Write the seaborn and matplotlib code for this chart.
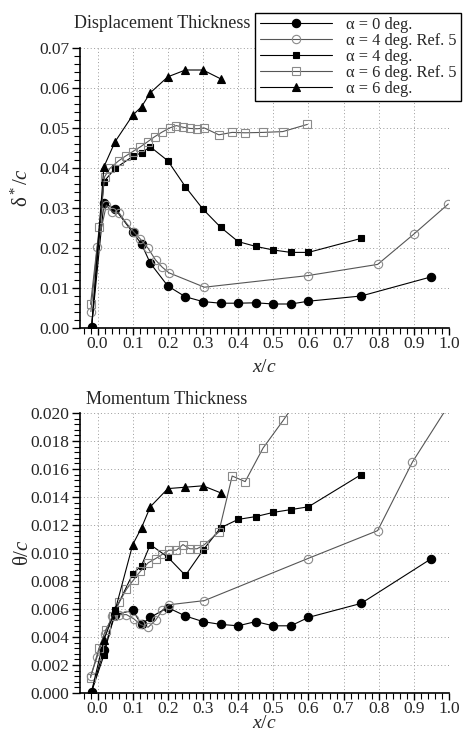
import numpy as np
import pandas as pd
import matplotlib
matplotlib.use("Agg")
import matplotlib.pyplot as plt
import seaborn as sns
from matplotlib.ticker import MultipleLocator, FormatStrFormatter

sns.set_theme(style="white")
plt.rcParams['font.family'] = ['Liberation Serif', 'DejaVu Serif']
plt.rcParams['mathtext.fontset'] = 'custom'
plt.rcParams['mathtext.rm'] = 'Liberation Serif'
plt.rcParams['mathtext.it'] = 'Liberation Serif:italic'

# ---------------- data ----------------
labels = ["α = 0 deg.", "α = 4 deg. Ref. 5", "α = 4 deg.", "α = 6 deg. Ref. 5", "α = 6 deg."]

# Displacement thickness (delta*/c)
d0_x = [-0.017, 0.018, 0.05, 0.10, 0.125, 0.15, 0.20, 0.25, 0.30, 0.35, 0.40, 0.45, 0.50, 0.55, 0.60, 0.75, 0.95]
d0_y = [0.0002, 0.0313, 0.0297, 0.0239, 0.0210, 0.0162, 0.0105, 0.0078, 0.0066, 0.0062, 0.0062, 0.0063, 0.0060, 0.0060, 0.0067, 0.0080, 0.0128]

d4r_x = [-0.019, -0.001, 0.025, 0.042, 0.062, 0.082, 0.103, 0.122, 0.144, 0.165, 0.184, 0.203, 0.304, 0.598, 0.797, 0.899, 0.998]
d4r_y = [0.0041, 0.0203, 0.0307, 0.0290, 0.0287, 0.0262, 0.0240, 0.0222, 0.0199, 0.0170, 0.0152, 0.0138, 0.0102, 0.0131, 0.0159, 0.0234, 0.0310]

d4_x = [-0.017, 0.018, 0.05, 0.10, 0.125, 0.15, 0.20, 0.25, 0.30, 0.35, 0.40, 0.45, 0.50, 0.55, 0.60, 0.75]
d4_y = [0.0002, 0.0366, 0.0399, 0.0429, 0.0438, 0.0453, 0.0418, 0.0353, 0.0297, 0.0252, 0.0216, 0.0204, 0.0195, 0.0189, 0.0189, 0.0224]

d6r_x = [-0.02, 0.005, 0.02, 0.035, 0.06, 0.08, 0.10, 0.122, 0.143, 0.162, 0.184, 0.205, 0.224, 0.243, 0.262, 0.283, 0.304, 0.345, 0.383, 0.420, 0.471, 0.527, 0.597]
d6r_y = [0.0059, 0.0253, 0.0378, 0.0399, 0.0418, 0.0430, 0.0441, 0.0453, 0.0466, 0.0478, 0.0490, 0.0500, 0.0506, 0.0502, 0.0499, 0.0498, 0.0500, 0.0483, 0.0489, 0.0488, 0.0489, 0.0491, 0.0509]

d6_x = [-0.017, 0.018, 0.05, 0.10, 0.125, 0.15, 0.20, 0.25, 0.30, 0.35]
d6_y = [0.0002, 0.0403, 0.0466, 0.0532, 0.0553, 0.0588, 0.0628, 0.0645, 0.0645, 0.0623]

# Momentum thickness (theta/c)
m0_x = [-0.017, 0.018, 0.05, 0.10, 0.125, 0.15, 0.20, 0.25, 0.30, 0.35, 0.40, 0.45, 0.50, 0.55, 0.60, 0.75, 0.95]
m0_y = [0.0001, 0.0031, 0.0056, 0.0059, 0.0049, 0.0054, 0.0061, 0.0055, 0.0051, 0.0049, 0.0048, 0.0051, 0.0048, 0.0048, 0.0054, 0.0064, 0.0096]

m4r_x = [-0.02, -0.001, 0.02, 0.042, 0.062, 0.082, 0.103, 0.122, 0.144, 0.165, 0.184, 0.203, 0.304, 0.598, 0.797, 0.896, 1.0]
m4r_y = [0.0012, 0.0026, 0.0042, 0.0055, 0.0056, 0.0056, 0.0053, 0.0049, 0.0047, 0.0052, 0.0059, 0.0063, 0.0066, 0.0096, 0.0116, 0.0165, 0.0206]

m4_x = [-0.017, 0.018, 0.05, 0.10, 0.125, 0.15, 0.20, 0.25, 0.30, 0.35, 0.40, 0.45, 0.50, 0.55, 0.60, 0.75]
m4_y = [0.0001, 0.0027, 0.0059, 0.0085, 0.0091, 0.0106, 0.0097, 0.0084, 0.0102, 0.0118, 0.0124, 0.0126, 0.0129, 0.0131, 0.0133, 0.0156]

m6r_x = [-0.02, 0.004, 0.023, 0.044, 0.062, 0.082, 0.103, 0.122, 0.144, 0.165, 0.184, 0.203, 0.224, 0.243, 0.262, 0.283, 0.304, 0.345, 0.383, 0.420, 0.471, 0.529, 0.597]
m6r_y = [0.0011, 0.0032, 0.0045, 0.0055, 0.0065, 0.0074, 0.0081, 0.0087, 0.0093, 0.0096, 0.0099, 0.0102, 0.0102, 0.0106, 0.0103, 0.0103, 0.0106, 0.0115, 0.0155, 0.0151, 0.0175, 0.0195, 0.0220]

m6_x = [-0.017, 0.018, 0.05, 0.10, 0.125, 0.15, 0.20, 0.25, 0.30, 0.35]
m6_y = [0.0001, 0.0038, 0.0059, 0.0106, 0.0118, 0.0133, 0.0146, 0.0147, 0.0148, 0.0143]

x_ticks = [0.0, 0.1, 0.2, 0.3, 0.4, 0.5, 0.6, 0.7, 0.8, 0.9, 1.0]

# ---------------- styles ----------------
BLK = "black"
GRY = "#8a8a8a"
styles = [
    dict(marker="o", markersize=6.0, markerfacecolor=BLK, markeredgecolor=BLK, color=BLK),
    dict(marker="o", markersize=6.0, markerfacecolor="none", markeredgecolor=GRY, color="#555555"),
    dict(marker="s", markersize=5.0, markerfacecolor=BLK, markeredgecolor=BLK, color=BLK),
    dict(marker="s", markersize=5.2, markerfacecolor="none", markeredgecolor=GRY, color="#555555"),
    dict(marker="^", markersize=6.0, markerfacecolor=BLK, markeredgecolor=BLK, color=BLK),
]

fig = plt.figure(figsize=(4.63, 7.33), dpi=100)
W, H = 463.0, 733.0
ax1 = fig.add_axes([80 / W, 1 - 328 / H, 369 / W, 280 / H])
ax2 = fig.add_axes([80 / W, 1 - 693 / H, 369 / W, 280 / H])

disp = [(d0_x, d0_y), (d4r_x, d4r_y), (d4_x, d4_y), (d6r_x, d6r_y), (d6_x, d6_y)]
mom = [(m0_x, m0_y), (m4r_x, m4r_y), (m4_x, m4_y), (m6r_x, m6r_y), (m6_x, m6_y)]

for ax, series in [(ax1, disp), (ax2, mom)]:
    for (xs, ys), lab, st in zip(series, labels, styles):
        df = pd.DataFrame({"x": xs, "y": ys})
        sns.lineplot(data=df, x="x", y="y", ax=ax, sort=False, estimator=None,
                     linewidth=0.8, markeredgewidth=0.8, label=lab, legend=False, **st)

def style_axes(ax, ylim, ymaj, ymin, yfmt):
    ax.set_xlim(-0.05, 1.0)
    ax.set_ylim(*ylim)
    ax.set_xticks(x_ticks)
    ax.xaxis.set_major_formatter(FormatStrFormatter("%.1f"))
    ax.xaxis.set_minor_locator(MultipleLocator(0.02))
    ax.yaxis.set_major_locator(MultipleLocator(ymaj))
    ax.yaxis.set_minor_locator(MultipleLocator(ymin))
    ax.yaxis.set_major_formatter(FormatStrFormatter(yfmt))
    for s in ["top", "right"]:
        ax.spines[s].set_visible(False)
    for s in ["left", "bottom"]:
        ax.spines[s].set_color("black")
        ax.spines[s].set_linewidth(1.2)
    ax.tick_params(which="major", direction="out", length=6, width=1.0, color="black",
                   labelsize=12.5, pad=1.5, left=True, bottom=True)
    ax.tick_params(axis="x", which="major", length=5, pad=1.0)
    ax.tick_params(which="minor", direction="out", length=4, width=0.8, color="black",
                   left=True, bottom=True)
    ax.grid(True, which="major", linestyle=(0, (1, 2.5)), linewidth=0.7, color="#9a9a9a")
    ax.set_axisbelow(True)
    ax.set_facecolor("white")
    ax.set_xlabel("")

style_axes(ax1, (0.0, 0.07), 0.01, 0.002, "%.2f")
style_axes(ax2, (0.0, 0.020), 0.002, 0.0004, "%.3f")

fig.text(264 / W, 1 - 376 / H, r"$\mathit{x/c}$", fontsize=14, ha="center", va="bottom")
fig.text(264 / W, 1 - 732 / H, r"$\mathit{x/c}$", fontsize=14, ha="center", va="bottom")

ax1.set_ylabel(r"δ$^*$/$\mathit{c}$", fontsize=15)
ax2.set_ylabel(r"θ/$\mathit{c}$", fontsize=15)
ax1.yaxis.set_label_coords(-0.128, 0.5)
ax2.yaxis.set_label_coords(-0.128, 0.5)

fig.text(74 / W, 1 - 24 / H, "Displacement Thickness", fontsize=13, ha="left", va="center")
fig.text(86 / W, 1 - 400 / H, "Momentum Thickness", fontsize=13, ha="left", va="center")

handles, labs = ax1.get_legend_handles_labels()
leg = fig.legend(handles, labs, loc="upper right", bbox_to_anchor=(461 / W, 1 - 13 / H),
                 bbox_transform=fig.transFigure, fontsize=11.8, frameon=True, fancybox=False,
                 handlelength=4.4, handletextpad=0.9, labelspacing=0.0, borderpad=0.25,
                 borderaxespad=0.0, framealpha=1.0)
leg.get_frame().set_edgecolor("black")
leg.get_frame().set_linewidth(1.0)

fig.savefig("out.png", dpi=100, facecolor="white")
